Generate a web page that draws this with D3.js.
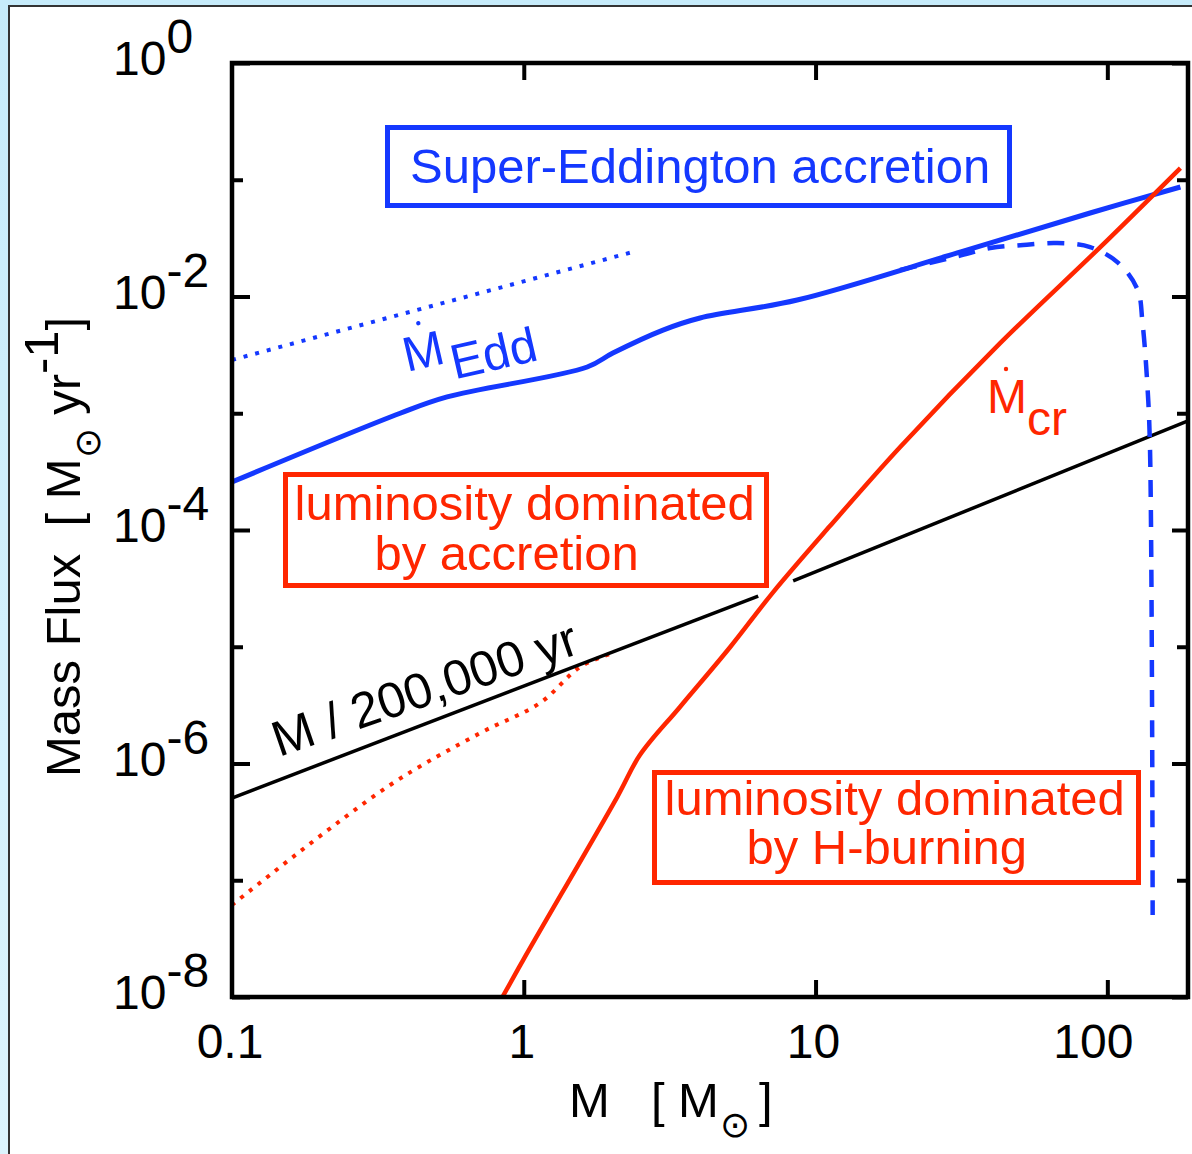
<!DOCTYPE html>
<html>
<head>
<meta charset="utf-8">
<script src="https://cdn.jsdelivr.net/npm/d3@7"></script>
<style>
body { margin: 0; background: #fff; }
svg { display: block; }
</style>
</head>
<body>
<script>
/* Mass flux vs stellar mass (log-log). */

// Eddington accretion rate (solid blue)
var eddMass = [0.1, 0.377, 0.546, 1.65, 2.02, 3.0, 4.02, 8.65, 30.6, 87.3, 178];
var eddFlux = [2.58e-4, 1.0e-3, 1.38e-3, 2.49e-3, 3.28e-3, 5.16e-3, 6.55e-3,
               9.33e-3, 0.0236, 0.0519, 0.0867];

// upper dotted blue line
var eddDotMass = [0.1, 0.321, 2.37];
var eddDotFlux = [2.86e-3, 6.29e-3, 0.0241];

// dashed blue turn-over
var eddDashMass = [19.5, 30.8, 39.7, 51.5, 67.3, 87.3, 109, 127, 132, 137,
                   140, 143];
var eddDashFlux = [0.01686, 0.0222, 0.0260, 0.0276, 0.0287, 0.0265, 0.0194,
                   0.0114, 5.93e-3, 1.82e-3, 5.14e-4, 5.04e-8];

// critical rate (solid red)
var crMass = [0.845, 0.995, 2.09, 2.50, 3.43, 5.10, 7.16, 11.2, 19.5, 43.0,
              94.6, 178];
var crFlux = [1.0e-8, 2.07e-8, 5.16e-7, 1.18e-6, 3.05e-6, 9.95e-6, 2.94e-5,
              1.08e-4, 5.14e-4, 4.0e-3, 0.0265, 0.126];

// dotted red low-mass part
var crDotMass = [0.1, 0.340, 0.708, 1.137, 1.56, 2.02];
var crDotFlux = [6.14e-8, 6.29e-7, 1.82e-6, 3.30e-6, 6.71e-6, 8.84e-6];

// M / 200,000 yr (black, two pieces)
var ageMassA = [0.1, 6.36];
var ageFluxA = [5.06e-7, 2.72e-5];
var ageMassB = [8.38, 189];
var ageFluxB = [3.66e-5, 8.59e-4];

// ticks
var xTicks = [1, 10, 100];
var xTickLabels = ["0.1", "1", "10", "100"];
var xLabelValues = [0.1, 1, 10, 100];
var yMajorExp = [0, -2, -4, -6, -8];
var yMinorExp = [-1, -3, -5, -7];

var BLUE = "#1438ff",
    RED = "#ff2600",
    FONT = "'Liberation Sans', Arial, Helvetica, sans-serif";

var W = 1192, H = 1154;
var plot = {left: 232, right: 1188, top: 63, bottom: 997};

var svg = d3.select("body").append("svg")
    .attr("width", W)
    .attr("height", H)
    .style("font-family", FONT);

// outer light-blue page and white panel
var grad = svg.append("defs").append("linearGradient")
    .attr("id", "bg").attr("x1", 0).attr("y1", 0).attr("x2", 0).attr("y2", 1);
grad.append("stop").attr("offset", "0%").attr("stop-color", "#c6ebfa");
grad.append("stop").attr("offset", "100%").attr("stop-color", "#dcf4fd");

svg.append("rect")
    .attr("width", W).attr("height", H)
    .attr("fill", "url(#bg)");
svg.append("rect")
    .attr("x", 9).attr("y", 6)
    .attr("width", W + 20).attr("height", H + 20)
    .attr("fill", "#fff")
    .attr("stroke", "#333")
    .attr("stroke-width", 2);

svg.select("defs").append("clipPath").attr("id", "clip")
    .append("rect")
    .attr("x", plot.left).attr("y", plot.top)
    .attr("width", plot.right - plot.left)
    .attr("height", plot.bottom - plot.top);

// scales
var x = d3.scaleLog().domain([0.1, 189]).range([plot.left, plot.right]);
var y = d3.scaleLog().domain([1e-8, 1]).range([plot.bottom, plot.top]);

// ticks (inward, all four sides)
function tickStyle(g) {
    g.select(".domain").remove();
    g.selectAll(".tick line")
        .attr("stroke", "#000")
        .attr("stroke-width", 4);
}
var majorVals = yMajorExp.map(function (e) { return Math.pow(10, e); });
var minorVals = yMinorExp.map(function (e) { return Math.pow(10, e); });

svg.append("g")
    .attr("transform", "translate(" + plot.left + ",0)")
    .call(d3.axisLeft(y).tickValues(majorVals).tickSize(-18).tickFormat(""))
    .call(tickStyle);
svg.append("g")
    .attr("transform", "translate(" + plot.left + ",0)")
    .call(d3.axisLeft(y).tickValues(minorVals).tickSize(-11).tickFormat(""))
    .call(tickStyle);
svg.append("g")
    .attr("transform", "translate(" + plot.right + ",0)")
    .call(d3.axisRight(y).tickValues(majorVals).tickSize(-16).tickFormat(""))
    .call(tickStyle);
svg.append("g")
    .attr("transform", "translate(" + plot.right + ",0)")
    .call(d3.axisRight(y).tickValues(minorVals).tickSize(-11).tickFormat(""))
    .call(tickStyle);
svg.append("g")
    .attr("transform", "translate(0," + plot.bottom + ")")
    .call(d3.axisBottom(x).tickValues(xTicks).tickSize(-17).tickFormat(""))
    .call(tickStyle);
svg.append("g")
    .attr("transform", "translate(0," + plot.top + ")")
    .call(d3.axisTop(x).tickValues(xTicks).tickSize(-17).tickFormat(""))
    .call(tickStyle);

// curves
var straight = d3.line()
    .x(function (d) { return x(d[0]); })
    .y(function (d) { return y(d[1]); });
var smooth = d3.line()
    .curve(d3.curveCatmullRom.alpha(0.5))
    .x(function (d) { return x(d[0]); })
    .y(function (d) { return y(d[1]); });

var curves = svg.append("g").attr("clip-path", "url(#clip)");

function drawCurve(mass, flux, gen, color, width, dash) {
    curves.append("path")
        .datum(d3.zip(mass, flux))
        .attr("d", gen)
        .attr("fill", "none")
        .attr("stroke", color)
        .attr("stroke-width", width)
        .attr("stroke-dasharray", dash || null)
        .attr("stroke-linejoin", "round");
}

drawCurve(eddDotMass, eddDotFlux, straight, BLUE, 4, "4,8");
drawCurve(crDotMass, crDotFlux, smooth, RED, 4, "4,7");
drawCurve(ageMassA, ageFluxA, straight, "#000", 3.5);
drawCurve(ageMassB, ageFluxB, straight, "#000", 3.5);
drawCurve(eddDashMass, eddDashFlux, smooth, BLUE, 4.5, "17,13");
drawCurve(eddMass, eddFlux, smooth, BLUE, 5);
drawCurve(crMass, crFlux, smooth, RED, 4.5);

// frame
svg.append("rect")
    .attr("x", plot.left).attr("y", plot.top)
    .attr("width", plot.right - plot.left)
    .attr("height", plot.bottom - plot.top)
    .attr("fill", "none")
    .attr("stroke", "#000")
    .attr("stroke-width", 4.5);

// y tick labels 10^n
yMajorExp.forEach(function (e) {
    var t = svg.append("text")
        .attr("x", 113)
        .attr("y", y(Math.pow(10, e)) + 12)
        .attr("font-size", 48)
        .attr("fill", "#000")
        .text("10");
    t.append("tspan")
        .attr("dy", -22)
        .text(e === 0 ? "0" : "-" + (-e));
});

// x tick labels
svg.selectAll(".xlab")
    .data(xLabelValues)
    .enter()
    .append("text")
    .attr("class", "xlab")
    .attr("x", function (d) { return x(d) + (d === 100 ? -14 : -2); })
    .attr("y", 1058)
    .attr("text-anchor", "middle")
    .attr("font-size", 48)
    .text(function (d, i) { return xTickLabels[i]; });

// x axis title: M [ M_sun ]
var xt = svg.append("text")
    .attr("y", 1117)
    .attr("font-size", 49);
xt.append("tspan").attr("x", 569).text("M");
xt.append("tspan").attr("x", 651).text("[");
xt.append("tspan").attr("x", 678).text("M");
xt.append("tspan").attr("x", 720).attr("dy", 20)
    .attr("font-size", 36).text("\u2299");
xt.append("tspan").attr("x", 759).attr("dy", -20).text("]");

// y axis title: Mass Flux [ M_sun yr^-1 ]
var yt = svg.append("text")
    .attr("transform", "translate(80,777) rotate(-90)")
    .attr("font-size", 49);
yt.append("tspan").text("Mass Flux\u00a0\u00a0[ M");
yt.append("tspan").attr("dy", 20).attr("font-size", 36).text("\u2299");
yt.append("tspan").attr("dy", -20).text("\u00a0yr");
yt.append("tspan").attr("dy", -22).text("-1");
yt.append("tspan").attr("dy", 22).text("]");

// region boxes
function box(x0, y0, x1, y1, color) {
    svg.append("rect")
        .attr("x", x0).attr("y", y0)
        .attr("width", x1 - x0).attr("height", y1 - y0)
        .attr("fill", "none")
        .attr("stroke", color)
        .attr("stroke-width", 5);
}
box(387.5, 127.5, 1009.5, 205.5, BLUE);
box(285.5, 474.5, 766.5, 585.5, RED);
box(654.5, 772.5, 1138.5, 882.5, RED);

function label(txt, lx, ly, color) {
    svg.append("text")
        .attr("x", lx).attr("y", ly)
        .attr("font-size", 49)
        .attr("fill", color)
        .text(txt);
}
label("Super-Eddington accretion", 410, 183, BLUE);
label("luminosity dominated", 294.5, 520, RED);
label("by accretion", 374.5, 570, RED);
label("luminosity dominated", 664.5, 815, RED);
label("by H-burning", 746.5, 864, RED);

// M-dot Edd (rotated along the curve)
var edd = svg.append("g")
    .attr("transform", "translate(407,372) rotate(-13)");
var et = edd.append("text")
    .attr("font-size", 49)
    .attr("fill", BLUE)
    .text("M");
et.append("tspan").attr("dx", 4).attr("dy", 18).text("Edd");
edd.append("circle")
    .attr("cx", 22).attr("cy", -45).attr("r", 2.2)
    .attr("fill", BLUE);

// M-dot cr
var cr = svg.append("text")
    .attr("x", 987).attr("y", 413)
    .attr("font-size", 48)
    .attr("fill", RED)
    .text("M");
cr.append("tspan").attr("dy", 22).text("cr");
svg.append("circle")
    .attr("cx", 1006).attr("cy", 369).attr("r", 2.2)
    .attr("fill", RED);

// M / 200,000 yr
svg.append("text")
    .attr("transform", "translate(279,757) rotate(-19)")
    .attr("font-size", 50)
    .attr("fill", "#000")
    .text("M / 200,000 yr");
</script>
</body>
</html>
